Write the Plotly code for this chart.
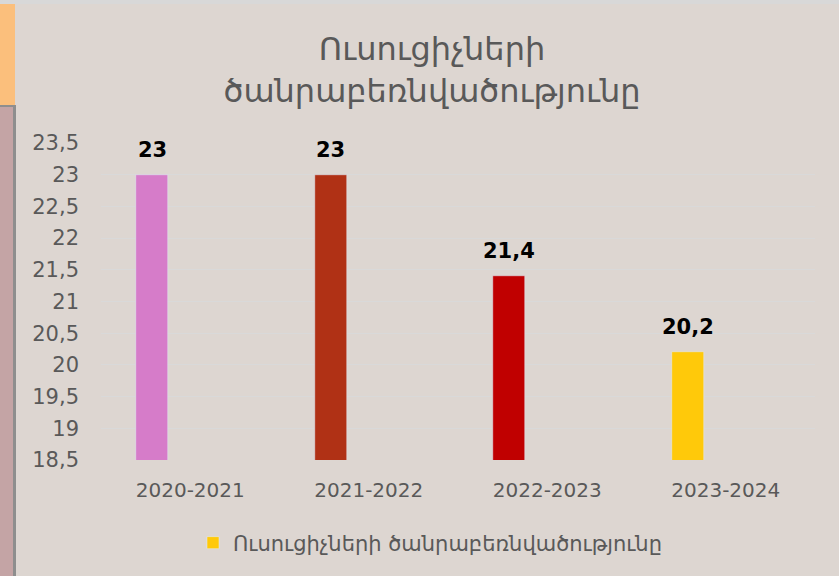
import plotly.graph_objects as go

# data
years = ["2020-2021", "2021-2022", "2022-2023", "2023-2024"]
workload = [23, 23, 21.4, 20.2]
bar_colors = ["#D67CC9", "#B03115", "#C00000", "#FFC90A"]
series_name = "Ուսուցիչների ծանրաբեռնվածությունը"
title_text = "Ուսուցիչների<br>ծանրաբեռնվածությունը"

W, H = 839, 576
L, R, T, B = 101, 24, 143, 116
plot_w = W - L - R
cat_px = plot_w / len(years)

bar_width = 32 / cat_px
bar_offset = -54 / cat_px

txt_gray = "#595959"
font_name = "DejaVu Sans"


def px_x(p):
    return (p - L) / plot_w


def px_y(p):
    return 1 - (p - T) / (H - T - B)


fig = go.Figure()
fig.add_trace(go.Bar(
    x=years, y=workload,
    marker_color=bar_colors,
    width=bar_width, offset=bar_offset,
    showlegend=False,
    hoverinfo="skip",
))
# legend entry only
fig.add_trace(go.Bar(
    x=[None], y=[None],
    marker_color=bar_colors[-1],
    name=series_name,
))

shift = (bar_offset + bar_width / 2) * cat_px
for yr, v in zip(years, workload):
    fig.add_annotation(
        x=yr, y=v, text=f"<b>{str(v).replace('.', ',')}</b>",
        showarrow=False, yanchor="bottom", xshift=shift, yshift=11,
        font=dict(family=font_name, size=21, color="#000000"),
    )

# decoration strips on the left and top
shapes = [
    dict(x0=px_x(0), x1=px_x(W), y0=px_y(0), y1=px_y(4), color="#D8D8D8"),
    dict(x0=px_x(0), x1=px_x(15), y0=px_y(4), y1=px_y(105), color="#FBBF7C"),
    dict(x0=px_x(0), x1=px_x(16), y0=px_y(105), y1=px_y(H), color="#8E8E8E"),
    dict(x0=px_x(0), x1=px_x(13), y0=px_y(107), y1=px_y(H), color="#C4A4A5"),
]
for s in shapes:
    fig.add_shape(type="rect", xref="paper", yref="paper",
                  x0=s["x0"], x1=s["x1"], y0=s["y0"], y1=s["y1"],
                  fillcolor=s["color"], line_width=0, layer="below")

fig.update_layout(
    width=W, height=H,
    margin=dict(l=L, r=R, t=T, b=B),
    paper_bgcolor="#DDD6D1",
    plot_bgcolor="#DDD6D1",
    separators=", ",
    font=dict(family=font_name, color=txt_gray),
    title=dict(text=title_text, x=432 / W, xanchor="center",
               y=1 - 60 / H, yanchor="top",
               font=dict(family=font_name, size=32, color=txt_gray)),
    bargap=0,
    legend=dict(orientation="h", x=px_x(430), xanchor="center",
                y=px_y(543), yanchor="middle",
                font=dict(size=21, color=txt_gray),
                bgcolor="rgba(0,0,0,0)"),
    xaxis=dict(showgrid=False, showline=False, ticks="",
               ticklabelstandoff=16,
               tickfont=dict(size=20, color=txt_gray)),
    yaxis=dict(range=[18.5, 23.5], tick0=18.5, dtick=0.5,
               showgrid=True, gridcolor="#D9D9D9", gridwidth=1,
               zeroline=False, showline=False, ticks="",
               ticklabelstandoff=21,
               tickfont=dict(size=21, color=txt_gray)),
)

fig.write_html("out.html", config={"displayModeBar": False},
               post_script="document.body.style.margin='0';")
